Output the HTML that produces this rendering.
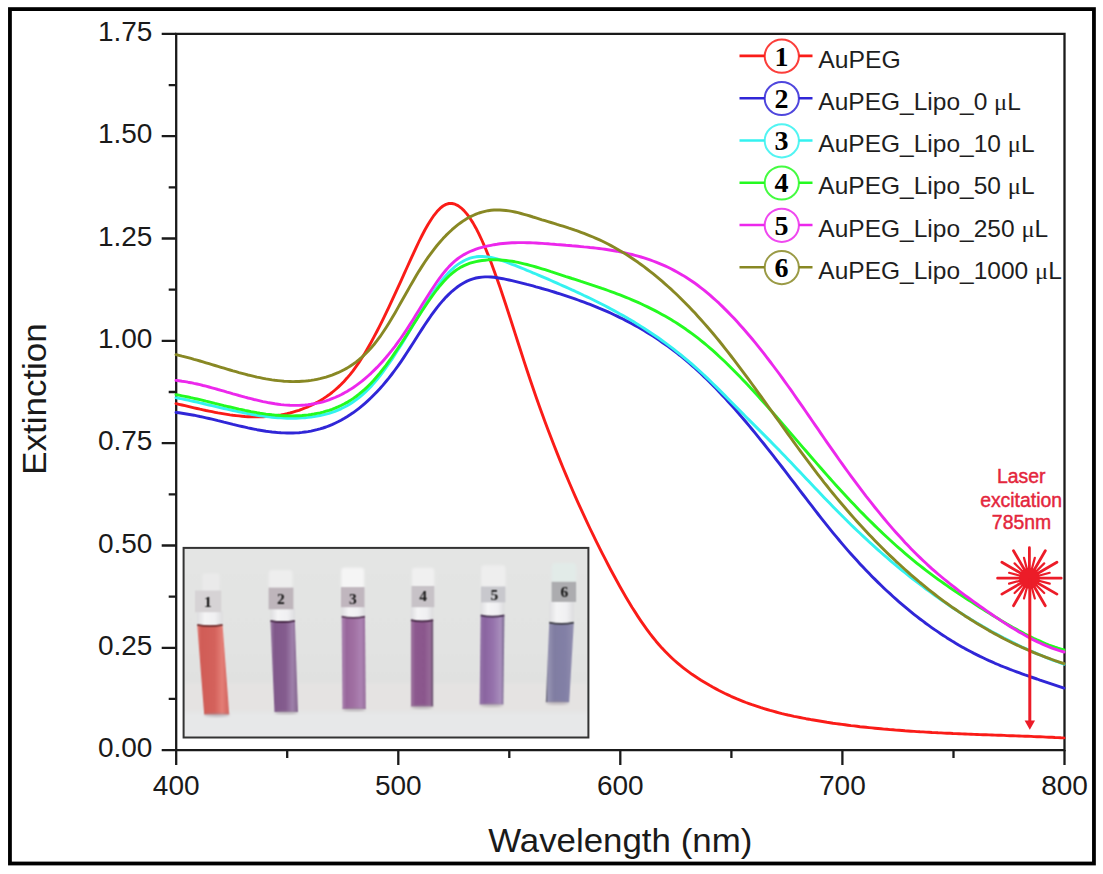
<!DOCTYPE html>
<html><head><meta charset="utf-8"><style>
html,body{margin:0;padding:0;background:#fff;}
body{width:1103px;height:874px;overflow:hidden;font-family:"Liberation Sans",sans-serif;}
svg{display:block;}
</style></head><body>
<svg width="1103" height="874" viewBox="0 0 1103 874">
<defs><linearGradient id="lq0" x1="0" y1="0" x2="1" y2="0"><stop offset="0.00" stop-color="rgb(226,128,120)"/><stop offset="0.12" stop-color="rgb(208,92,86)"/><stop offset="0.55" stop-color="rgb(212,98,92)"/><stop offset="0.78" stop-color="rgb(228,126,118)"/><stop offset="0.92" stop-color="rgb(214,106,100)"/><stop offset="1.00" stop-color="rgb(210,118,112)"/></linearGradient><linearGradient id="lq1" x1="0" y1="0" x2="1" y2="0"><stop offset="0.00" stop-color="rgb(158,128,168)"/><stop offset="0.15" stop-color="rgb(128,88,138)"/><stop offset="0.55" stop-color="rgb(132,92,142)"/><stop offset="0.80" stop-color="rgb(158,128,170)"/><stop offset="1.00" stop-color="rgb(130,100,140)"/></linearGradient><linearGradient id="lq2" x1="0" y1="0" x2="1" y2="0"><stop offset="0.00" stop-color="rgb(172,135,178)"/><stop offset="0.20" stop-color="rgb(152,102,155)"/><stop offset="0.50" stop-color="rgb(160,112,162)"/><stop offset="0.80" stop-color="rgb(172,130,178)"/><stop offset="1.00" stop-color="rgb(150,110,155)"/></linearGradient><linearGradient id="lq3" x1="0" y1="0" x2="1" y2="0"><stop offset="0.00" stop-color="rgb(160,120,160)"/><stop offset="0.20" stop-color="rgb(140,88,142)"/><stop offset="0.60" stop-color="rgb(138,86,140)"/><stop offset="0.85" stop-color="rgb(150,105,152)"/><stop offset="1.00" stop-color="rgb(105,85,110)"/></linearGradient><linearGradient id="lq4" x1="0" y1="0" x2="1" y2="0"><stop offset="0.00" stop-color="rgb(150,120,170)"/><stop offset="0.20" stop-color="rgb(138,100,160)"/><stop offset="0.55" stop-color="rgb(150,115,172)"/><stop offset="0.85" stop-color="rgb(168,142,188)"/><stop offset="1.00" stop-color="rgb(120,105,140)"/></linearGradient><linearGradient id="lq5" x1="0" y1="0" x2="1" y2="0"><stop offset="0.00" stop-color="rgb(90,88,100)"/><stop offset="0.08" stop-color="rgb(150,148,178)"/><stop offset="0.30" stop-color="rgb(128,125,162)"/><stop offset="0.70" stop-color="rgb(130,128,166)"/><stop offset="1.00" stop-color="rgb(145,142,175)"/></linearGradient>
<linearGradient id="bg" x1="0" y1="0" x2="0" y2="1">
<stop offset="0" stop-color="rgb(228,229,228)"/>
<stop offset="0.5" stop-color="rgb(226,227,226)"/>
<stop offset="0.7" stop-color="rgb(224,225,224)"/>
<stop offset="1" stop-color="rgb(231,232,233)"/>
</linearGradient>
<filter id="bl1"><feGaussianBlur stdDeviation="1"/></filter>
<filter id="bl05" x="183" y="547" width="406" height="191" filterUnits="userSpaceOnUse" color-interpolation-filters="sRGB"><feConvolveMatrix order="3" kernelMatrix="1 2 1 2 4 2 1 2 1" divisor="16" edgeMode="duplicate"/></filter>
<filter id="bl2"><feGaussianBlur stdDeviation="2"/></filter>
<linearGradient id="gl" x1="0" y1="0" x2="1" y2="0"><stop offset="0" stop-color="rgb(222,222,224)"/><stop offset="0.3" stop-color="rgb(244,244,245)"/><stop offset="0.7" stop-color="rgb(240,240,242)"/><stop offset="1" stop-color="rgb(220,220,222)"/></linearGradient>
<filter id="bl3"><feGaussianBlur stdDeviation="3"/></filter>
</defs>
<rect x="9.95" y="9.1" width="1084" height="854.4" fill="none" stroke="#000" stroke-width="3.8"/>
<g filter="url(#bl05)"><rect x="183.6" y="547.9" width="404.8" height="189.6" fill="url(#bg)"/><rect x="183.6" y="683" width="404.8" height="28" fill="rgb(229,227,226)" filter="url(#bl2)"/><rect x="183.6" y="713" width="404.8" height="24" fill="rgb(231,232,233)" filter="url(#bl2)"/><rect x="202.4" y="573.3" width="17.2" height="19.2" rx="3" fill="rgb(234,234,234)" filter="url(#bl1)"/><rect x="197.2" y="611.2" width="25.4" height="15.3" fill="url(#gl)"/><rect x="195.0" y="590.5" width="26.3" height="21.7" fill="rgb(214,211,213)"/><polygon points="197.2,625.5 222.6,625.5 229.3,714.4 204.2,714.4" fill="url(#lq0)"/><path d="M197.2,624.9 Q209.9,627.3 222.6,624.9" stroke="rgb(110,45,45)" stroke-width="1.8" fill="none"/><ellipse cx="216.8" cy="714.9" rx="12.6" ry="2" fill="rgb(150,140,150)" opacity="0.5" filter="url(#bl1)"/><text x="207.8" y="607.3" font-family="Liberation Serif" font-weight="bold" font-size="15.5" text-anchor="middle" fill="#161616">1</text><rect x="268.8" y="570.0" width="23.6" height="19.6" rx="3" fill="rgb(238,238,238)" filter="url(#bl1)"/><rect x="270.4" y="608.3" width="24.5" height="14.1" fill="url(#gl)"/><rect x="268.6" y="587.6" width="24.8" height="21.7" fill="rgb(190,181,187)"/><polygon points="270.4,621.4 294.9,621.4 298.0,712.0 274.5,712.0" fill="url(#lq1)"/><path d="M270.4,620.8 Q282.6,623.2 294.9,620.8" stroke="rgb(70,40,70)" stroke-width="1.8" fill="none"/><ellipse cx="286.2" cy="712.5" rx="11.8" ry="2" fill="rgb(150,140,150)" opacity="0.5" filter="url(#bl1)"/><text x="280.8" y="603.5" font-family="Liberation Serif" font-weight="bold" font-size="15.5" text-anchor="middle" fill="#161616">2</text><rect x="341.2" y="567.7" width="23.0" height="21.4" rx="3" fill="rgb(245,245,245)" filter="url(#bl1)"/><rect x="341.6" y="606.2" width="23.4" height="12.0" fill="url(#gl)"/><rect x="341.0" y="587.1" width="23.5" height="20.1" fill="rgb(192,182,190)"/><polygon points="341.6,617.2 365.0,617.2 365.8,709.0 342.4,709.0" fill="url(#lq2)"/><path d="M341.6,616.6 Q353.3,619.0 365.0,616.6" stroke="rgb(90,60,90)" stroke-width="1.8" fill="none"/><ellipse cx="354.1" cy="709.5" rx="11.7" ry="2" fill="rgb(150,140,150)" opacity="0.5" filter="url(#bl1)"/><text x="352.8" y="603.9" font-family="Liberation Serif" font-weight="bold" font-size="15.5" text-anchor="middle" fill="#161616">3</text><rect x="411.9" y="567.7" width="22.4" height="20.3" rx="3" fill="rgb(240,240,240)" filter="url(#bl1)"/><rect x="410.9" y="606.2" width="22.3" height="15.5" fill="url(#gl)"/><rect x="411.5" y="586.0" width="22.8" height="21.2" fill="rgb(199,194,199)"/><polygon points="410.9,620.7 433.2,620.7 433.2,706.5 410.9,706.5" fill="url(#lq3)"/><path d="M410.9,620.1 Q422.0,622.5 433.2,620.1" stroke="rgb(70,40,70)" stroke-width="1.8" fill="none"/><ellipse cx="422.0" cy="707.0" rx="11.2" ry="2" fill="rgb(150,140,150)" opacity="0.5" filter="url(#bl1)"/><text x="423.1" y="600.7" font-family="Liberation Serif" font-weight="bold" font-size="15.5" text-anchor="middle" fill="#161616">4</text><rect x="481.2" y="565.3" width="24.2" height="23.2" rx="3" fill="rgb(238,238,238)" filter="url(#bl1)"/><rect x="480.6" y="601.4" width="23.8" height="15.6" fill="url(#gl)"/><rect x="481.0" y="586.5" width="24.4" height="15.9" fill="rgb(200,200,205)"/><polygon points="480.6,616.0 504.4,616.0 503.4,704.6 479.6,704.6" fill="url(#lq4)"/><path d="M480.6,615.4 Q492.5,617.8 504.4,615.4" stroke="rgb(70,50,80)" stroke-width="1.8" fill="none"/><ellipse cx="491.5" cy="705.1" rx="11.9" ry="2" fill="rgb(150,140,150)" opacity="0.5" filter="url(#bl1)"/><text x="494.4" y="599.8" font-family="Liberation Serif" font-weight="bold" font-size="15.5" text-anchor="middle" fill="#161616">5</text><rect x="551.9" y="563.0" width="24.2" height="20.8" rx="3" fill="rgb(226,235,232)" filter="url(#bl1)"/><rect x="549.2" y="600.9" width="24.6" height="23.4" fill="url(#gl)"/><rect x="551.6" y="581.8" width="24.5" height="20.1" fill="rgb(172,172,175)"/><polygon points="549.2,623.3 573.8,623.3 569.2,702.3 545.8,702.3" fill="url(#lq5)"/><path d="M549.2,622.7 Q561.5,625.1 573.8,622.7" stroke="rgb(60,60,70)" stroke-width="1.8" fill="none"/><ellipse cx="557.5" cy="702.8" rx="11.7" ry="2" fill="rgb(150,140,150)" opacity="0.5" filter="url(#bl1)"/><text x="564.3" y="596.8" font-family="Liberation Serif" font-weight="bold" font-size="15.5" text-anchor="middle" fill="#161616">6</text></g>
<rect x="183.6" y="547.9" width="404.8" height="189.6" fill="none" stroke="#333" stroke-width="2"/>
<path d="M176.2,33.9 H1064.5 V750.1 H176.2 Z" fill="none" stroke="#1a1a1a" stroke-width="2.3"/>
<path d="M161.7,750.1 H176.2 M168.7,698.9 H176.2 M161.7,647.8 H176.2 M168.7,596.6 H176.2 M161.7,545.5 H176.2 M168.7,494.3 H176.2 M161.7,443.2 H176.2 M168.7,392.0 H176.2 M161.7,340.8 H176.2 M168.7,289.7 H176.2 M161.7,238.5 H176.2 M168.7,187.4 H176.2 M161.7,136.2 H176.2 M168.7,85.1 H176.2 M161.7,33.9 H176.2 M176.2,750.1 V765.1 M287.2,750.1 V758.1 M398.3,750.1 V765.1 M509.3,750.1 V758.1 M620.3,750.1 V765.1 M731.4,750.1 V758.1 M842.4,750.1 V765.1 M953.5,750.1 V758.1 M1064.5,750.1 V765.1" fill="none" stroke="#1a1a1a" stroke-width="2.3"/>
<g font-family="Liberation Sans" font-size="28" fill="#1a1a1a"><text x="152.4" y="757.3" text-anchor="end">0.00</text><text x="152.4" y="655.0" text-anchor="end">0.25</text><text x="152.4" y="552.7" text-anchor="end">0.50</text><text x="152.4" y="450.4" text-anchor="end">0.75</text><text x="152.4" y="348.0" text-anchor="end">1.00</text><text x="152.4" y="245.7" text-anchor="end">1.25</text><text x="152.4" y="143.4" text-anchor="end">1.50</text><text x="152.4" y="41.1" text-anchor="end">1.75</text><text x="176.2" y="795.4" text-anchor="middle">400</text><text x="398.3" y="795.4" text-anchor="middle">500</text><text x="620.3" y="795.4" text-anchor="middle">600</text><text x="842.4" y="795.4" text-anchor="middle">700</text><text x="1064.5" y="795.4" text-anchor="middle">800</text></g>
<text transform="translate(620.2,851.6) scale(1.057,1)" x="0" y="0" font-family="Liberation Sans" font-size="33" text-anchor="middle" fill="#1a1a1a">Wavelength (nm)</text>
<text transform="translate(46.1,399) rotate(-90) scale(1.058,1)" x="0" y="0" font-family="Liberation Sans" font-size="33" text-anchor="middle" fill="#1a1a1a">Extinction</text>
<path d="M176.0,403.6 L179.0,404.3 L182.0,405.0 L185.0,405.7 L188.0,406.4 L191.0,407.1 L194.0,407.8 L197.0,408.5 L200.0,409.2 L203.0,409.8 L206.0,410.5 L209.0,411.1 L212.0,411.7 L215.0,412.3 L218.0,412.9 L221.0,413.4 L224.0,413.9 L227.0,414.4 L230.0,414.9 L233.0,415.3 L236.0,415.6 L239.0,415.9 L242.0,416.2 L245.0,416.5 L248.0,416.7 L251.0,416.8 L254.0,416.9 L257.0,416.9 L260.0,416.9 L263.0,416.8 L266.0,416.6 L269.0,416.4 L272.0,416.2 L275.0,415.8 L278.0,415.4 L281.0,414.9 L284.0,414.3 L287.0,413.7 L290.0,413.0 L293.0,412.1 L296.0,411.2 L299.0,410.3 L302.0,409.2 L305.0,408.0 L308.0,406.8 L311.0,405.4 L314.0,404.0 L317.0,402.4 L320.0,400.7 L323.0,398.9 L326.0,396.9 L329.0,394.8 L332.0,392.5 L335.0,390.0 L338.0,387.4 L341.0,384.5 L344.0,381.4 L347.0,378.1 L350.0,374.6 L353.0,370.8 L356.0,366.7 L359.0,362.4 L362.0,357.8 L365.0,352.9 L368.0,347.8 L371.0,342.5 L374.0,336.9 L377.0,331.2 L380.0,325.3 L383.0,319.3 L386.0,313.1 L389.0,306.8 L392.0,300.4 L395.0,293.9 L398.0,287.4 L401.0,280.8 L404.0,274.1 L407.0,267.5 L410.0,260.9 L413.0,254.3 L416.0,247.8 L419.0,241.5 L422.0,235.5 L425.0,229.8 L428.0,224.5 L431.0,219.7 L434.0,215.3 L437.0,211.6 L440.0,208.4 L443.0,206.0 L446.0,204.4 L449.0,203.5 L452.0,203.5 L455.0,204.2 L458.0,205.6 L461.0,207.8 L464.0,210.6 L467.0,214.1 L470.0,218.2 L473.0,222.9 L476.0,228.2 L479.0,234.1 L482.0,240.5 L485.0,247.3 L488.0,254.6 L491.0,262.3 L494.0,270.4 L497.0,278.7 L500.0,287.3 L503.0,296.2 L506.0,305.3 L509.0,314.5 L512.0,323.8 L515.0,333.1 L518.0,342.5 L521.0,351.8 L524.0,361.1 L527.0,370.2 L530.0,379.2 L533.0,388.0 L536.0,396.7 L539.0,405.2 L542.0,413.5 L545.0,421.7 L548.0,429.7 L551.0,437.6 L554.0,445.3 L557.0,452.9 L560.0,460.4 L563.0,467.7 L566.0,474.9 L569.0,482.0 L572.0,489.0 L575.0,495.8 L578.0,502.6 L581.0,509.2 L584.0,515.7 L587.0,522.1 L590.0,528.5 L593.0,534.7 L596.0,540.8 L599.0,546.9 L602.0,552.8 L605.0,558.7 L608.0,564.5 L611.0,570.2 L614.0,575.8 L617.0,581.3 L620.0,586.7 L623.0,592.0 L626.0,597.2 L629.0,602.2 L632.0,607.2 L635.0,611.9 L638.0,616.6 L641.0,621.1 L644.0,625.4 L647.0,629.6 L650.0,633.7 L653.0,637.5 L656.0,641.2 L659.0,644.7 L662.0,648.1 L665.0,651.3 L668.0,654.3 L671.0,657.2 L674.0,660.0 L677.0,662.6 L680.0,665.2 L683.0,667.6 L686.0,669.9 L689.0,672.1 L692.0,674.3 L695.0,676.3 L698.0,678.3 L701.0,680.2 L704.0,682.0 L707.0,683.8 L710.0,685.6 L713.0,687.3 L716.0,688.9 L719.0,690.5 L722.0,692.0 L725.0,693.5 L728.0,694.9 L731.0,696.3 L734.0,697.6 L737.0,698.9 L740.0,700.1 L743.0,701.3 L746.0,702.5 L749.0,703.6 L752.0,704.7 L755.0,705.7 L758.0,706.7 L761.0,707.7 L764.0,708.6 L767.0,709.5 L770.0,710.4 L773.0,711.2 L776.0,712.0 L779.0,712.8 L782.0,713.6 L785.0,714.3 L788.0,715.0 L791.0,715.6 L794.0,716.3 L797.0,716.9 L800.0,717.5 L803.0,718.1 L806.0,718.7 L809.0,719.2 L812.0,719.8 L815.0,720.3 L818.0,720.8 L821.0,721.3 L824.0,721.8 L827.0,722.3 L830.0,722.7 L833.0,723.2 L836.0,723.6 L839.0,724.0 L842.0,724.4 L845.0,724.8 L848.0,725.2 L851.0,725.6 L854.0,725.9 L857.0,726.3 L860.0,726.7 L863.0,727.0 L866.0,727.3 L869.0,727.6 L872.0,727.9 L875.0,728.2 L878.0,728.5 L881.0,728.8 L884.0,729.1 L887.0,729.3 L890.0,729.6 L893.0,729.8 L896.0,730.1 L899.0,730.3 L902.0,730.5 L905.0,730.8 L908.0,731.0 L911.0,731.2 L914.0,731.4 L917.0,731.6 L920.0,731.8 L923.0,731.9 L926.0,732.1 L929.0,732.3 L932.0,732.5 L935.0,732.6 L938.0,732.8 L941.0,732.9 L944.0,733.1 L947.0,733.2 L950.0,733.3 L953.0,733.5 L956.0,733.6 L959.0,733.7 L962.0,733.9 L965.0,734.0 L968.0,734.1 L971.0,734.2 L974.0,734.4 L977.0,734.5 L980.0,734.6 L983.0,734.7 L986.0,734.8 L989.0,734.9 L992.0,735.0 L995.0,735.1 L998.0,735.2 L1001.0,735.3 L1004.0,735.4 L1007.0,735.6 L1010.0,735.7 L1013.0,735.8 L1016.0,735.9 L1019.0,736.0 L1022.0,736.1 L1025.0,736.2 L1028.0,736.3 L1031.0,736.4 L1034.0,736.6 L1037.0,736.7 L1040.0,736.8 L1043.0,736.9 L1046.0,737.1 L1049.0,737.2 L1052.0,737.3 L1055.0,737.5 L1058.0,737.6 L1061.0,737.8 L1064.0,737.9" fill="none" stroke="rgb(250,28,24)" stroke-width="2.9" stroke-linejoin="round" stroke-linecap="round"/>
<path d="M176.0,412.5 L179.0,412.8 L182.0,413.2 L185.0,413.7 L188.0,414.2 L191.0,414.7 L194.0,415.2 L197.0,415.8 L200.0,416.5 L203.0,417.1 L206.0,417.8 L209.0,418.5 L212.0,419.2 L215.0,419.9 L218.0,420.7 L221.0,421.4 L224.0,422.2 L227.0,422.9 L230.0,423.6 L233.0,424.4 L236.0,425.1 L239.0,425.8 L242.0,426.5 L245.0,427.2 L248.0,427.9 L251.0,428.5 L254.0,429.1 L257.0,429.7 L260.0,430.2 L263.0,430.7 L266.0,431.2 L269.0,431.6 L272.0,432.0 L275.0,432.3 L278.0,432.6 L281.0,432.8 L284.0,432.9 L287.0,433.0 L290.0,433.0 L293.0,433.0 L296.0,432.9 L299.0,432.7 L302.0,432.4 L305.0,432.0 L308.0,431.6 L311.0,431.1 L314.0,430.4 L317.0,429.7 L320.0,428.9 L323.0,428.0 L326.0,427.0 L329.0,425.8 L332.0,424.6 L335.0,423.2 L338.0,421.8 L341.0,420.2 L344.0,418.5 L347.0,416.7 L350.0,414.8 L353.0,412.8 L356.0,410.6 L359.0,408.3 L362.0,405.9 L365.0,403.3 L368.0,400.6 L371.0,397.8 L374.0,394.8 L377.0,391.7 L380.0,388.5 L383.0,385.1 L386.0,381.5 L389.0,377.9 L392.0,374.0 L395.0,370.0 L398.0,365.9 L401.0,361.6 L404.0,357.1 L407.0,352.5 L410.0,347.9 L413.0,343.2 L416.0,338.5 L419.0,333.8 L422.0,329.1 L425.0,324.5 L428.0,320.1 L431.0,315.7 L434.0,311.6 L437.0,307.6 L440.0,303.9 L443.0,300.4 L446.0,297.1 L449.0,294.1 L452.0,291.3 L455.0,288.8 L458.0,286.5 L461.0,284.5 L464.0,282.7 L467.0,281.1 L470.0,279.9 L473.0,278.8 L476.0,278.0 L479.0,277.5 L482.0,277.1 L485.0,276.9 L488.0,276.9 L491.0,277.0 L494.0,277.3 L497.0,277.7 L500.0,278.2 L503.0,278.7 L506.0,279.3 L509.0,280.0 L512.0,280.7 L515.0,281.4 L518.0,282.1 L521.0,282.8 L524.0,283.6 L527.0,284.4 L530.0,285.1 L533.0,285.9 L536.0,286.8 L539.0,287.6 L542.0,288.5 L545.0,289.3 L548.0,290.2 L551.0,291.1 L554.0,292.0 L557.0,293.0 L560.0,293.9 L563.0,294.9 L566.0,295.9 L569.0,296.9 L572.0,297.9 L575.0,298.9 L578.0,300.0 L581.0,301.1 L584.0,302.2 L587.0,303.3 L590.0,304.4 L593.0,305.6 L596.0,306.8 L599.0,308.1 L602.0,309.3 L605.0,310.6 L608.0,311.9 L611.0,313.3 L614.0,314.7 L617.0,316.1 L620.0,317.6 L623.0,319.0 L626.0,320.6 L629.0,322.1 L632.0,323.7 L635.0,325.4 L638.0,327.1 L641.0,328.8 L644.0,330.6 L647.0,332.4 L650.0,334.2 L653.0,336.1 L656.0,338.1 L659.0,340.1 L662.0,342.2 L665.0,344.3 L668.0,346.4 L671.0,348.6 L674.0,350.9 L677.0,353.2 L680.0,355.5 L683.0,358.0 L686.0,360.4 L689.0,363.0 L692.0,365.6 L695.0,368.2 L698.0,371.0 L701.0,373.7 L704.0,376.6 L707.0,379.5 L710.0,382.4 L713.0,385.5 L716.0,388.5 L719.0,391.7 L722.0,394.9 L725.0,398.1 L728.0,401.4 L731.0,404.7 L734.0,408.1 L737.0,411.5 L740.0,415.0 L743.0,418.5 L746.0,422.0 L749.0,425.6 L752.0,429.2 L755.0,432.9 L758.0,436.6 L761.0,440.3 L764.0,444.0 L767.0,447.8 L770.0,451.6 L773.0,455.4 L776.0,459.3 L779.0,463.1 L782.0,467.0 L785.0,470.9 L788.0,474.8 L791.0,478.8 L794.0,482.7 L797.0,486.6 L800.0,490.6 L803.0,494.5 L806.0,498.4 L809.0,502.3 L812.0,506.2 L815.0,510.1 L818.0,514.0 L821.0,517.8 L824.0,521.6 L827.0,525.4 L830.0,529.1 L833.0,532.8 L836.0,536.4 L839.0,540.0 L842.0,543.6 L845.0,547.1 L848.0,550.6 L851.0,554.0 L854.0,557.3 L857.0,560.6 L860.0,563.9 L863.0,567.1 L866.0,570.2 L869.0,573.3 L872.0,576.4 L875.0,579.4 L878.0,582.4 L881.0,585.3 L884.0,588.2 L887.0,591.0 L890.0,593.7 L893.0,596.5 L896.0,599.2 L899.0,601.8 L902.0,604.4 L905.0,606.9 L908.0,609.4 L911.0,611.9 L914.0,614.3 L917.0,616.6 L920.0,619.0 L923.0,621.2 L926.0,623.5 L929.0,625.6 L932.0,627.8 L935.0,629.9 L938.0,631.9 L941.0,634.0 L944.0,635.9 L947.0,637.9 L950.0,639.7 L953.0,641.6 L956.0,643.4 L959.0,645.2 L962.0,646.9 L965.0,648.6 L968.0,650.2 L971.0,651.8 L974.0,653.4 L977.0,654.9 L980.0,656.4 L983.0,657.8 L986.0,659.2 L989.0,660.6 L992.0,661.9 L995.0,663.3 L998.0,664.5 L1001.0,665.8 L1004.0,667.0 L1007.0,668.2 L1010.0,669.4 L1013.0,670.5 L1016.0,671.6 L1019.0,672.7 L1022.0,673.8 L1025.0,674.9 L1028.0,675.9 L1031.0,677.0 L1034.0,678.0 L1037.0,679.0 L1040.0,680.1 L1043.0,681.1 L1046.0,682.1 L1049.0,683.1 L1052.0,684.1 L1055.0,685.1 L1058.0,686.1 L1061.0,687.1 L1064.0,688.1" fill="none" stroke="rgb(48,38,215)" stroke-width="2.9" stroke-linejoin="round" stroke-linecap="round"/>
<path d="M176.0,397.8 L179.0,398.3 L182.0,398.9 L185.0,399.5 L188.0,400.2 L191.0,400.8 L194.0,401.5 L197.0,402.2 L200.0,402.9 L203.0,403.5 L206.0,404.3 L209.0,405.0 L212.0,405.7 L215.0,406.4 L218.0,407.1 L221.0,407.8 L224.0,408.5 L227.0,409.2 L230.0,409.9 L233.0,410.5 L236.0,411.2 L239.0,411.8 L242.0,412.4 L245.0,413.0 L248.0,413.6 L251.0,414.2 L254.0,414.7 L257.0,415.2 L260.0,415.7 L263.0,416.1 L266.0,416.5 L269.0,416.9 L272.0,417.2 L275.0,417.5 L278.0,417.7 L281.0,417.9 L284.0,418.1 L287.0,418.2 L290.0,418.2 L293.0,418.2 L296.0,418.2 L299.0,418.1 L302.0,417.9 L305.0,417.7 L308.0,417.4 L311.0,417.0 L314.0,416.6 L317.0,416.1 L320.0,415.5 L323.0,414.9 L326.0,414.1 L329.0,413.3 L332.0,412.3 L335.0,411.3 L338.0,410.1 L341.0,408.8 L344.0,407.3 L347.0,405.7 L350.0,404.0 L353.0,402.0 L356.0,399.9 L359.0,397.6 L362.0,395.1 L365.0,392.4 L368.0,389.5 L371.0,386.4 L374.0,383.1 L377.0,379.5 L380.0,375.8 L383.0,371.8 L386.0,367.7 L389.0,363.5 L392.0,359.1 L395.0,354.5 L398.0,349.8 L401.0,345.1 L404.0,340.2 L407.0,335.2 L410.0,330.2 L413.0,325.2 L416.0,320.1 L419.0,315.1 L422.0,310.1 L425.0,305.2 L428.0,300.4 L431.0,295.8 L434.0,291.3 L437.0,287.0 L440.0,282.9 L443.0,279.0 L446.0,275.5 L449.0,272.2 L452.0,269.3 L455.0,266.7 L458.0,264.4 L461.0,262.4 L464.0,260.7 L467.0,259.3 L470.0,258.2 L473.0,257.4 L476.0,256.8 L479.0,256.5 L482.0,256.4 L485.0,256.6 L488.0,256.9 L491.0,257.4 L494.0,258.1 L497.0,258.9 L500.0,259.9 L503.0,260.9 L506.0,262.0 L509.0,263.1 L512.0,264.3 L515.0,265.4 L518.0,266.6 L521.0,267.8 L524.0,269.0 L527.0,270.3 L530.0,271.5 L533.0,272.8 L536.0,274.0 L539.0,275.3 L542.0,276.6 L545.0,277.9 L548.0,279.2 L551.0,280.5 L554.0,281.8 L557.0,283.1 L560.0,284.5 L563.0,285.8 L566.0,287.1 L569.0,288.5 L572.0,289.9 L575.0,291.2 L578.0,292.6 L581.0,294.0 L584.0,295.5 L587.0,296.9 L590.0,298.3 L593.0,299.8 L596.0,301.3 L599.0,302.8 L602.0,304.3 L605.0,305.8 L608.0,307.4 L611.0,309.0 L614.0,310.6 L617.0,312.2 L620.0,313.9 L623.0,315.6 L626.0,317.3 L629.0,319.1 L632.0,320.8 L635.0,322.6 L638.0,324.5 L641.0,326.4 L644.0,328.3 L647.0,330.2 L650.0,332.2 L653.0,334.2 L656.0,336.2 L659.0,338.3 L662.0,340.5 L665.0,342.6 L668.0,344.9 L671.0,347.1 L674.0,349.4 L677.0,351.8 L680.0,354.1 L683.0,356.6 L686.0,359.1 L689.0,361.6 L692.0,364.2 L695.0,366.8 L698.0,369.5 L701.0,372.3 L704.0,375.0 L707.0,377.9 L710.0,380.8 L713.0,383.7 L716.0,386.6 L719.0,389.6 L722.0,392.6 L725.0,395.6 L728.0,398.7 L731.0,401.7 L734.0,404.7 L737.0,407.8 L740.0,410.8 L743.0,413.8 L746.0,416.9 L749.0,419.9 L752.0,422.9 L755.0,425.9 L758.0,428.9 L761.0,431.9 L764.0,434.9 L767.0,437.9 L770.0,440.9 L773.0,444.0 L776.0,447.0 L779.0,450.1 L782.0,453.2 L785.0,456.3 L788.0,459.4 L791.0,462.6 L794.0,465.7 L797.0,468.9 L800.0,472.1 L803.0,475.2 L806.0,478.4 L809.0,481.6 L812.0,484.8 L815.0,487.9 L818.0,491.1 L821.0,494.3 L824.0,497.4 L827.0,500.5 L830.0,503.6 L833.0,506.7 L836.0,509.8 L839.0,512.8 L842.0,515.8 L845.0,518.8 L848.0,521.8 L851.0,524.7 L854.0,527.6 L857.0,530.5 L860.0,533.3 L863.0,536.1 L866.0,538.9 L869.0,541.7 L872.0,544.4 L875.0,547.1 L878.0,549.8 L881.0,552.5 L884.0,555.1 L887.0,557.7 L890.0,560.3 L893.0,562.8 L896.0,565.3 L899.0,567.8 L902.0,570.3 L905.0,572.7 L908.0,575.1 L911.0,577.5 L914.0,579.8 L917.0,582.1 L920.0,584.4 L923.0,586.7 L926.0,589.0 L929.0,591.2 L932.0,593.4 L935.0,595.5 L938.0,597.7 L941.0,599.8 L944.0,601.9 L947.0,603.9 L950.0,606.0 L953.0,608.0 L956.0,609.9 L959.0,611.9 L962.0,613.8 L965.0,615.7 L968.0,617.6 L971.0,619.4 L974.0,621.3 L977.0,623.1 L980.0,624.8 L983.0,626.6 L986.0,628.3 L989.0,630.0 L992.0,631.7 L995.0,633.3 L998.0,634.9 L1001.0,636.5 L1004.0,638.1 L1007.0,639.6 L1010.0,641.1 L1013.0,642.6 L1016.0,644.1 L1019.0,645.5 L1022.0,647.0 L1025.0,648.4 L1028.0,649.7 L1031.0,651.1 L1034.0,652.4 L1037.0,653.7 L1040.0,654.9 L1043.0,656.2 L1046.0,657.4 L1049.0,658.6 L1052.0,659.8 L1055.0,660.9 L1058.0,662.0 L1061.0,663.1 L1064.0,664.2" fill="none" stroke="rgb(52,242,240)" stroke-width="2.9" stroke-linejoin="round" stroke-linecap="round"/>
<path d="M176.0,394.6 L179.0,395.2 L182.0,395.8 L185.0,396.4 L188.0,397.0 L191.0,397.7 L194.0,398.3 L197.0,399.0 L200.0,399.7 L203.0,400.4 L206.0,401.2 L209.0,401.9 L212.0,402.6 L215.0,403.4 L218.0,404.1 L221.0,404.8 L224.0,405.6 L227.0,406.3 L230.0,407.0 L233.0,407.7 L236.0,408.4 L239.0,409.1 L242.0,409.7 L245.0,410.4 L248.0,411.0 L251.0,411.6 L254.0,412.1 L257.0,412.7 L260.0,413.2 L263.0,413.6 L266.0,414.1 L269.0,414.4 L272.0,414.8 L275.0,415.1 L278.0,415.3 L281.0,415.6 L284.0,415.7 L287.0,415.8 L290.0,415.9 L293.0,415.9 L296.0,415.8 L299.0,415.7 L302.0,415.5 L305.0,415.2 L308.0,414.9 L311.0,414.5 L314.0,414.0 L317.0,413.4 L320.0,412.8 L323.0,412.1 L326.0,411.2 L329.0,410.3 L332.0,409.3 L335.0,408.2 L338.0,406.9 L341.0,405.5 L344.0,404.0 L347.0,402.4 L350.0,400.6 L353.0,398.6 L356.0,396.5 L359.0,394.2 L362.0,391.7 L365.0,389.1 L368.0,386.2 L371.0,383.2 L374.0,380.0 L377.0,376.5 L380.0,373.0 L383.0,369.2 L386.0,365.3 L389.0,361.2 L392.0,357.0 L395.0,352.7 L398.0,348.3 L401.0,343.8 L404.0,339.2 L407.0,334.6 L410.0,329.9 L413.0,325.1 L416.0,320.4 L419.0,315.7 L422.0,311.0 L425.0,306.5 L428.0,302.0 L431.0,297.7 L434.0,293.5 L437.0,289.5 L440.0,285.7 L443.0,282.2 L446.0,279.0 L449.0,276.0 L452.0,273.3 L455.0,271.0 L458.0,268.9 L461.0,267.1 L464.0,265.6 L467.0,264.3 L470.0,263.2 L473.0,262.3 L476.0,261.6 L479.0,261.0 L482.0,260.5 L485.0,260.2 L488.0,259.9 L491.0,259.8 L494.0,259.8 L497.0,259.8 L500.0,260.0 L503.0,260.2 L506.0,260.5 L509.0,260.9 L512.0,261.3 L515.0,261.8 L518.0,262.4 L521.0,263.1 L524.0,263.8 L527.0,264.5 L530.0,265.3 L533.0,266.1 L536.0,267.0 L539.0,267.9 L542.0,268.8 L545.0,269.7 L548.0,270.7 L551.0,271.7 L554.0,272.6 L557.0,273.6 L560.0,274.6 L563.0,275.6 L566.0,276.6 L569.0,277.5 L572.0,278.5 L575.0,279.4 L578.0,280.4 L581.0,281.4 L584.0,282.3 L587.0,283.3 L590.0,284.3 L593.0,285.3 L596.0,286.3 L599.0,287.3 L602.0,288.4 L605.0,289.4 L608.0,290.5 L611.0,291.6 L614.0,292.7 L617.0,293.8 L620.0,294.9 L623.0,296.1 L626.0,297.3 L629.0,298.5 L632.0,299.8 L635.0,301.1 L638.0,302.4 L641.0,303.8 L644.0,305.2 L647.0,306.6 L650.0,308.1 L653.0,309.6 L656.0,311.1 L659.0,312.7 L662.0,314.4 L665.0,316.1 L668.0,317.8 L671.0,319.6 L674.0,321.4 L677.0,323.3 L680.0,325.3 L683.0,327.3 L686.0,329.3 L689.0,331.5 L692.0,333.6 L695.0,335.9 L698.0,338.2 L701.0,340.6 L704.0,343.0 L707.0,345.5 L710.0,348.1 L713.0,350.7 L716.0,353.4 L719.0,356.2 L722.0,359.0 L725.0,361.8 L728.0,364.7 L731.0,367.7 L734.0,370.7 L737.0,373.7 L740.0,376.8 L743.0,379.9 L746.0,383.1 L749.0,386.3 L752.0,389.5 L755.0,392.8 L758.0,396.1 L761.0,399.4 L764.0,402.7 L767.0,406.1 L770.0,409.5 L773.0,412.9 L776.0,416.3 L779.0,419.8 L782.0,423.2 L785.0,426.7 L788.0,430.1 L791.0,433.6 L794.0,437.1 L797.0,440.6 L800.0,444.1 L803.0,447.6 L806.0,451.0 L809.0,454.5 L812.0,458.0 L815.0,461.4 L818.0,464.9 L821.0,468.3 L824.0,471.7 L827.0,475.1 L830.0,478.5 L833.0,481.9 L836.0,485.2 L839.0,488.5 L842.0,491.8 L845.0,495.0 L848.0,498.3 L851.0,501.5 L854.0,504.6 L857.0,507.8 L860.0,510.9 L863.0,513.9 L866.0,517.0 L869.0,520.0 L872.0,522.9 L875.0,525.9 L878.0,528.8 L881.0,531.6 L884.0,534.5 L887.0,537.3 L890.0,540.0 L893.0,542.8 L896.0,545.5 L899.0,548.1 L902.0,550.7 L905.0,553.3 L908.0,555.9 L911.0,558.4 L914.0,560.8 L917.0,563.3 L920.0,565.7 L923.0,568.0 L926.0,570.3 L929.0,572.6 L932.0,574.9 L935.0,577.1 L938.0,579.3 L941.0,581.4 L944.0,583.5 L947.0,585.6 L950.0,587.7 L953.0,589.7 L956.0,591.8 L959.0,593.8 L962.0,595.8 L965.0,597.7 L968.0,599.7 L971.0,601.6 L974.0,603.5 L977.0,605.5 L980.0,607.4 L983.0,609.3 L986.0,611.2 L989.0,613.1 L992.0,614.9 L995.0,616.8 L998.0,618.6 L1001.0,620.4 L1004.0,622.2 L1007.0,624.0 L1010.0,625.7 L1013.0,627.5 L1016.0,629.1 L1019.0,630.8 L1022.0,632.4 L1025.0,634.0 L1028.0,635.5 L1031.0,637.0 L1034.0,638.5 L1037.0,639.9 L1040.0,641.2 L1043.0,642.5 L1046.0,643.8 L1049.0,645.0 L1052.0,646.1 L1055.0,647.2 L1058.0,648.2 L1061.0,649.1 L1064.0,650.0" fill="none" stroke="rgb(36,250,32)" stroke-width="2.9" stroke-linejoin="round" stroke-linecap="round"/>
<path d="M176.0,380.4 L179.0,380.7 L182.0,381.2 L185.0,381.6 L188.0,382.2 L191.0,382.7 L194.0,383.4 L197.0,384.0 L200.0,384.7 L203.0,385.5 L206.0,386.2 L209.0,387.0 L212.0,387.8 L215.0,388.6 L218.0,389.5 L221.0,390.3 L224.0,391.2 L227.0,392.1 L230.0,392.9 L233.0,393.8 L236.0,394.6 L239.0,395.5 L242.0,396.3 L245.0,397.2 L248.0,398.0 L251.0,398.7 L254.0,399.5 L257.0,400.2 L260.0,400.9 L263.0,401.6 L266.0,402.2 L269.0,402.8 L272.0,403.3 L275.0,403.8 L278.0,404.2 L281.0,404.6 L284.0,404.9 L287.0,405.1 L290.0,405.3 L293.0,405.4 L296.0,405.4 L299.0,405.4 L302.0,405.2 L305.0,405.0 L308.0,404.7 L311.0,404.3 L314.0,403.8 L317.0,403.2 L320.0,402.6 L323.0,401.8 L326.0,400.9 L329.0,399.9 L332.0,398.7 L335.0,397.5 L338.0,396.2 L341.0,394.7 L344.0,393.1 L347.0,391.4 L350.0,389.6 L353.0,387.7 L356.0,385.6 L359.0,383.4 L362.0,381.1 L365.0,378.6 L368.0,376.0 L371.0,373.3 L374.0,370.4 L377.0,367.4 L380.0,364.2 L383.0,360.9 L386.0,357.5 L389.0,353.9 L392.0,350.2 L395.0,346.3 L398.0,342.2 L401.0,338.0 L404.0,333.6 L407.0,329.1 L410.0,324.4 L413.0,319.7 L416.0,314.8 L419.0,309.9 L422.0,305.1 L425.0,300.2 L428.0,295.4 L431.0,290.7 L434.0,286.2 L437.0,281.8 L440.0,277.6 L443.0,273.7 L446.0,270.0 L449.0,266.6 L452.0,263.6 L455.0,260.9 L458.0,258.5 L461.0,256.4 L464.0,254.6 L467.0,253.0 L470.0,251.5 L473.0,250.3 L476.0,249.2 L479.0,248.2 L482.0,247.4 L485.0,246.6 L488.0,245.9 L491.0,245.3 L494.0,244.7 L497.0,244.3 L500.0,243.8 L503.0,243.5 L506.0,243.2 L509.0,243.0 L512.0,242.8 L515.0,242.7 L518.0,242.6 L521.0,242.6 L524.0,242.6 L527.0,242.7 L530.0,242.8 L533.0,242.9 L536.0,243.0 L539.0,243.2 L542.0,243.4 L545.0,243.6 L548.0,243.8 L551.0,244.1 L554.0,244.3 L557.0,244.6 L560.0,244.8 L563.0,245.0 L566.0,245.3 L569.0,245.5 L572.0,245.8 L575.0,246.0 L578.0,246.3 L581.0,246.6 L584.0,246.9 L587.0,247.1 L590.0,247.5 L593.0,247.8 L596.0,248.1 L599.0,248.5 L602.0,248.9 L605.0,249.3 L608.0,249.7 L611.0,250.2 L614.0,250.7 L617.0,251.2 L620.0,251.8 L623.0,252.4 L626.0,253.1 L629.0,253.8 L632.0,254.5 L635.0,255.3 L638.0,256.1 L641.0,257.0 L644.0,257.9 L647.0,258.9 L650.0,259.9 L653.0,261.0 L656.0,262.1 L659.0,263.3 L662.0,264.6 L665.0,265.9 L668.0,267.3 L671.0,268.8 L674.0,270.4 L677.0,272.0 L680.0,273.7 L683.0,275.4 L686.0,277.3 L689.0,279.2 L692.0,281.2 L695.0,283.3 L698.0,285.5 L701.0,287.8 L704.0,290.1 L707.0,292.6 L710.0,295.1 L713.0,297.8 L716.0,300.5 L719.0,303.2 L722.0,306.1 L725.0,309.1 L728.0,312.1 L731.0,315.2 L734.0,318.3 L737.0,321.6 L740.0,324.9 L743.0,328.3 L746.0,331.7 L749.0,335.2 L752.0,338.8 L755.0,342.4 L758.0,346.1 L761.0,349.9 L764.0,353.7 L767.0,357.6 L770.0,361.5 L773.0,365.5 L776.0,369.5 L779.0,373.5 L782.0,377.7 L785.0,381.8 L788.0,386.0 L791.0,390.2 L794.0,394.5 L797.0,398.8 L800.0,403.1 L803.0,407.4 L806.0,411.8 L809.0,416.1 L812.0,420.5 L815.0,424.9 L818.0,429.2 L821.0,433.6 L824.0,438.0 L827.0,442.3 L830.0,446.6 L833.0,450.9 L836.0,455.2 L839.0,459.5 L842.0,463.7 L845.0,467.9 L848.0,472.0 L851.0,476.1 L854.0,480.2 L857.0,484.2 L860.0,488.2 L863.0,492.1 L866.0,496.1 L869.0,499.9 L872.0,503.7 L875.0,507.5 L878.0,511.2 L881.0,514.9 L884.0,518.5 L887.0,522.1 L890.0,525.6 L893.0,529.1 L896.0,532.5 L899.0,535.8 L902.0,539.1 L905.0,542.4 L908.0,545.5 L911.0,548.7 L914.0,551.7 L917.0,554.7 L920.0,557.6 L923.0,560.5 L926.0,563.3 L929.0,566.1 L932.0,568.8 L935.0,571.4 L938.0,574.0 L941.0,576.5 L944.0,579.0 L947.0,581.4 L950.0,583.8 L953.0,586.2 L956.0,588.5 L959.0,590.8 L962.0,593.1 L965.0,595.3 L968.0,597.5 L971.0,599.7 L974.0,601.9 L977.0,604.0 L980.0,606.2 L983.0,608.3 L986.0,610.4 L989.0,612.5 L992.0,614.5 L995.0,616.6 L998.0,618.6 L1001.0,620.6 L1004.0,622.6 L1007.0,624.5 L1010.0,626.4 L1013.0,628.3 L1016.0,630.1 L1019.0,631.9 L1022.0,633.6 L1025.0,635.3 L1028.0,637.0 L1031.0,638.6 L1034.0,640.1 L1037.0,641.6 L1040.0,643.0 L1043.0,644.4 L1046.0,645.7 L1049.0,646.9 L1052.0,648.1 L1055.0,649.2 L1058.0,650.2 L1061.0,651.1 L1064.0,652.0" fill="none" stroke="rgb(236,40,236)" stroke-width="2.9" stroke-linejoin="round" stroke-linecap="round"/>
<path d="M176.0,354.6 L179.0,355.3 L182.0,356.1 L185.0,356.8 L188.0,357.6 L191.0,358.4 L194.0,359.3 L197.0,360.1 L200.0,361.0 L203.0,361.9 L206.0,362.8 L209.0,363.7 L212.0,364.6 L215.0,365.5 L218.0,366.4 L221.0,367.3 L224.0,368.2 L227.0,369.1 L230.0,370.0 L233.0,370.9 L236.0,371.7 L239.0,372.6 L242.0,373.4 L245.0,374.2 L248.0,375.0 L251.0,375.7 L254.0,376.4 L257.0,377.1 L260.0,377.7 L263.0,378.3 L266.0,378.9 L269.0,379.4 L272.0,379.9 L275.0,380.3 L278.0,380.6 L281.0,380.9 L284.0,381.2 L287.0,381.4 L290.0,381.5 L293.0,381.6 L296.0,381.5 L299.0,381.5 L302.0,381.3 L305.0,381.1 L308.0,380.8 L311.0,380.4 L314.0,379.9 L317.0,379.3 L320.0,378.7 L323.0,377.9 L326.0,377.1 L329.0,376.1 L332.0,375.1 L335.0,373.9 L338.0,372.7 L341.0,371.3 L344.0,369.7 L347.0,368.1 L350.0,366.2 L353.0,364.2 L356.0,362.1 L359.0,359.7 L362.0,357.1 L365.0,354.3 L368.0,351.3 L371.0,348.0 L374.0,344.5 L377.0,340.7 L380.0,336.7 L383.0,332.3 L386.0,327.7 L389.0,322.9 L392.0,318.0 L395.0,312.9 L398.0,307.6 L401.0,302.3 L404.0,297.0 L407.0,291.7 L410.0,286.4 L413.0,281.2 L416.0,276.1 L419.0,271.1 L422.0,266.4 L425.0,261.8 L428.0,257.4 L431.0,253.3 L434.0,249.3 L437.0,245.5 L440.0,242.0 L443.0,238.6 L446.0,235.4 L449.0,232.5 L452.0,229.7 L455.0,227.1 L458.0,224.7 L461.0,222.5 L464.0,220.4 L467.0,218.6 L470.0,216.9 L473.0,215.5 L476.0,214.2 L479.0,213.0 L482.0,212.1 L485.0,211.3 L488.0,210.7 L491.0,210.3 L494.0,210.0 L497.0,209.9 L500.0,210.0 L503.0,210.2 L506.0,210.5 L509.0,210.9 L512.0,211.4 L515.0,212.0 L518.0,212.7 L521.0,213.5 L524.0,214.3 L527.0,215.1 L530.0,216.0 L533.0,217.0 L536.0,217.9 L539.0,218.8 L542.0,219.8 L545.0,220.7 L548.0,221.6 L551.0,222.5 L554.0,223.4 L557.0,224.4 L560.0,225.3 L563.0,226.2 L566.0,227.2 L569.0,228.2 L572.0,229.1 L575.0,230.2 L578.0,231.2 L581.0,232.3 L584.0,233.4 L587.0,234.6 L590.0,235.8 L593.0,237.0 L596.0,238.3 L599.0,239.6 L602.0,241.0 L605.0,242.5 L608.0,244.0 L611.0,245.6 L614.0,247.2 L617.0,248.9 L620.0,250.7 L623.0,252.5 L626.0,254.3 L629.0,256.2 L632.0,258.2 L635.0,260.3 L638.0,262.3 L641.0,264.5 L644.0,266.7 L647.0,269.0 L650.0,271.3 L653.0,273.7 L656.0,276.1 L659.0,278.6 L662.0,281.2 L665.0,283.8 L668.0,286.5 L671.0,289.2 L674.0,292.0 L677.0,294.8 L680.0,297.7 L683.0,300.7 L686.0,303.7 L689.0,306.8 L692.0,310.0 L695.0,313.1 L698.0,316.4 L701.0,319.7 L704.0,323.1 L707.0,326.5 L710.0,330.0 L713.0,333.5 L716.0,337.2 L719.0,340.8 L722.0,344.5 L725.0,348.3 L728.0,352.1 L731.0,356.0 L734.0,359.9 L737.0,363.8 L740.0,367.8 L743.0,371.8 L746.0,375.9 L749.0,379.9 L752.0,384.0 L755.0,388.1 L758.0,392.3 L761.0,396.4 L764.0,400.6 L767.0,404.8 L770.0,409.0 L773.0,413.2 L776.0,417.4 L779.0,421.5 L782.0,425.7 L785.0,429.9 L788.0,434.1 L791.0,438.2 L794.0,442.4 L797.0,446.5 L800.0,450.6 L803.0,454.7 L806.0,458.7 L809.0,462.7 L812.0,466.7 L815.0,470.7 L818.0,474.6 L821.0,478.4 L824.0,482.3 L827.0,486.0 L830.0,489.8 L833.0,493.5 L836.0,497.1 L839.0,500.7 L842.0,504.3 L845.0,507.8 L848.0,511.3 L851.0,514.7 L854.0,518.1 L857.0,521.4 L860.0,524.7 L863.0,528.0 L866.0,531.2 L869.0,534.4 L872.0,537.6 L875.0,540.7 L878.0,543.7 L881.0,546.7 L884.0,549.7 L887.0,552.7 L890.0,555.6 L893.0,558.4 L896.0,561.3 L899.0,564.0 L902.0,566.8 L905.0,569.5 L908.0,572.2 L911.0,574.8 L914.0,577.4 L917.0,579.9 L920.0,582.5 L923.0,584.9 L926.0,587.4 L929.0,589.8 L932.0,592.2 L935.0,594.5 L938.0,596.8 L941.0,599.1 L944.0,601.3 L947.0,603.5 L950.0,605.6 L953.0,607.8 L956.0,609.8 L959.0,611.9 L962.0,613.9 L965.0,615.9 L968.0,617.8 L971.0,619.8 L974.0,621.6 L977.0,623.5 L980.0,625.3 L983.0,627.1 L986.0,628.8 L989.0,630.6 L992.0,632.2 L995.0,633.9 L998.0,635.5 L1001.0,637.1 L1004.0,638.7 L1007.0,640.2 L1010.0,641.7 L1013.0,643.2 L1016.0,644.6 L1019.0,646.0 L1022.0,647.4 L1025.0,648.7 L1028.0,650.0 L1031.0,651.3 L1034.0,652.6 L1037.0,653.8 L1040.0,655.0 L1043.0,656.2 L1046.0,657.3 L1049.0,658.4 L1052.0,659.5 L1055.0,660.6 L1058.0,661.6 L1061.0,662.6 L1064.0,663.6" fill="none" stroke="rgb(136,136,36)" stroke-width="2.9" stroke-linejoin="round" stroke-linecap="round"/>
<line x1="739.5" y1="55.9" x2="812.5" y2="55.9" stroke="rgb(250,28,24)" stroke-width="2.6"/>
<ellipse cx="781.8" cy="56.2" rx="17.1" ry="16.6" fill="#fff" stroke="rgb(250,28,24)" stroke-width="2" stroke-opacity="0.85"/>
<text x="781.6" y="65.5" font-family="Liberation Serif" font-weight="bold" font-size="28" text-anchor="middle" fill="#000">1</text>
<text transform="translate(818.3,67.6) scale(1.03,1)" font-family="Liberation Sans" font-size="24" fill="#1e1e1e">AuPEG</text>
<line x1="739.5" y1="98.2" x2="812.5" y2="98.2" stroke="rgb(48,38,215)" stroke-width="2.6"/>
<ellipse cx="781.8" cy="98.5" rx="17.1" ry="16.6" fill="#fff" stroke="rgb(48,38,215)" stroke-width="2" stroke-opacity="0.85"/>
<text x="781.6" y="107.8" font-family="Liberation Serif" font-weight="bold" font-size="28" text-anchor="middle" fill="#000">2</text>
<text transform="translate(818.3,109.9) scale(1.022,1)" font-family="Liberation Sans" font-size="24" fill="#1e1e1e">AuPEG_Lipo_0 <tspan font-family="Liberation Serif">&#956;</tspan>L</text>
<line x1="739.5" y1="140.5" x2="812.5" y2="140.5" stroke="rgb(52,242,240)" stroke-width="2.6"/>
<ellipse cx="781.8" cy="140.8" rx="17.1" ry="16.6" fill="#fff" stroke="rgb(52,242,240)" stroke-width="2" stroke-opacity="0.85"/>
<text x="781.6" y="150.1" font-family="Liberation Serif" font-weight="bold" font-size="28" text-anchor="middle" fill="#000">3</text>
<text transform="translate(818.3,152.2) scale(1.022,1)" font-family="Liberation Sans" font-size="24" fill="#1e1e1e">AuPEG_Lipo_10 <tspan font-family="Liberation Serif">&#956;</tspan>L</text>
<line x1="739.5" y1="182.7" x2="812.5" y2="182.7" stroke="rgb(36,250,32)" stroke-width="2.6"/>
<ellipse cx="781.8" cy="183.0" rx="17.1" ry="16.6" fill="#fff" stroke="rgb(36,250,32)" stroke-width="2" stroke-opacity="0.85"/>
<text x="781.6" y="192.3" font-family="Liberation Serif" font-weight="bold" font-size="28" text-anchor="middle" fill="#000">4</text>
<text transform="translate(818.3,194.4) scale(1.022,1)" font-family="Liberation Sans" font-size="24" fill="#1e1e1e">AuPEG_Lipo_50 <tspan font-family="Liberation Serif">&#956;</tspan>L</text>
<line x1="739.5" y1="225.0" x2="812.5" y2="225.0" stroke="rgb(236,40,236)" stroke-width="2.6"/>
<ellipse cx="781.8" cy="225.3" rx="17.1" ry="16.6" fill="#fff" stroke="rgb(236,40,236)" stroke-width="2" stroke-opacity="0.85"/>
<text x="781.6" y="234.6" font-family="Liberation Serif" font-weight="bold" font-size="28" text-anchor="middle" fill="#000">5</text>
<text transform="translate(818.3,236.7) scale(1.022,1)" font-family="Liberation Sans" font-size="24" fill="#1e1e1e">AuPEG_Lipo_250 <tspan font-family="Liberation Serif">&#956;</tspan>L</text>
<line x1="739.5" y1="267.3" x2="812.5" y2="267.3" stroke="rgb(136,136,36)" stroke-width="2.6"/>
<ellipse cx="781.8" cy="267.6" rx="17.1" ry="16.6" fill="#fff" stroke="rgb(136,136,36)" stroke-width="2" stroke-opacity="0.85"/>
<text x="781.6" y="276.9" font-family="Liberation Serif" font-weight="bold" font-size="28" text-anchor="middle" fill="#000">6</text>
<text transform="translate(818.3,279.0) scale(1.022,1)" font-family="Liberation Sans" font-size="24" fill="#1e1e1e">AuPEG_Lipo_1000 <tspan font-family="Liberation Serif">&#956;</tspan>L</text>
<path d="M1029.4,578.2 L1061.2,578.2 M1029.4,578.2 L1056.9,562.3 M1029.4,578.2 L1045.3,550.7 M1029.4,578.2 L1029.4,547.7 M1029.4,578.2 L1013.5,550.7 M1029.4,578.2 L1001.9,562.3 M1029.4,578.2 L997.6,578.2 M1029.4,578.2 L1001.9,594.1 M1029.4,578.2 L1013.5,605.7 M1029.4,578.2 L1045.3,605.7 M1029.4,578.2 L1056.9,594.1" stroke="rgb(236,28,40)" stroke-width="2.8" stroke-linecap="round"/>
<path d="M1029.4,578.2 L1049.7,572.8 M1029.4,578.2 L1044.2,563.4 M1029.4,578.2 L1034.8,557.9 M1029.4,578.2 L1024.0,557.9 M1029.4,578.2 L1014.6,563.4 M1029.4,578.2 L1009.1,572.8 M1029.4,578.2 L1009.1,583.6 M1029.4,578.2 L1014.6,593.0 M1029.4,578.2 L1024.0,598.5 M1029.4,578.2 L1034.8,598.5 M1029.4,578.2 L1044.2,593.0 M1029.4,578.2 L1049.7,583.6" stroke="rgb(236,28,40)" stroke-width="2.2" stroke-linecap="round"/>
<circle cx="1029.4" cy="578.2" r="10.5" fill="rgb(236,28,40)"/>
<line x1="1029.8" y1="578.2" x2="1029.8" y2="722" stroke="rgb(236,28,40)" stroke-width="3"/>
<polygon points="1024.6,720.4 1035,720.4 1029.8,729.8" fill="rgb(236,28,40)"/>
<g font-family="Liberation Sans" font-size="19.4" fill="rgb(228,38,60)" stroke="rgb(228,38,60)" stroke-width="0.45" text-anchor="middle"><text x="1021.3" y="483.2">Laser</text><text x="1021.1" y="506.8">excitation</text><text x="1021.5" y="529.1">785nm</text></g>
</svg>
</body></html>
